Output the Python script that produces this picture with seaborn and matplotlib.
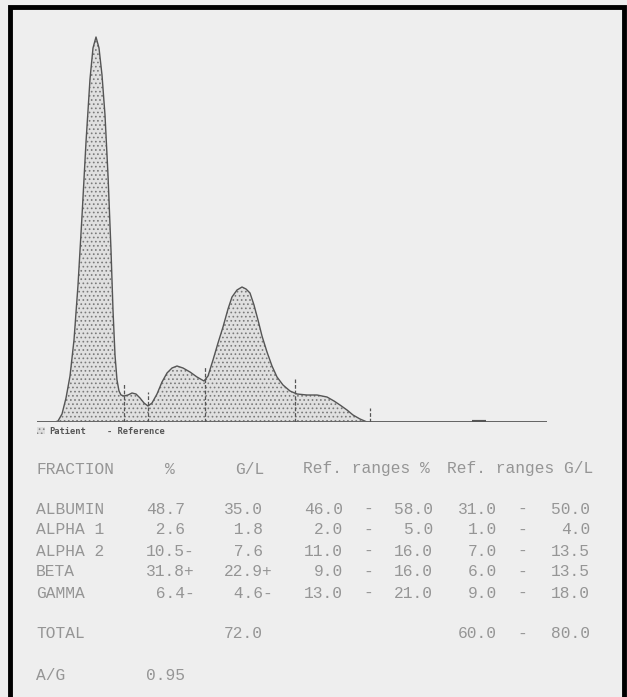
import numpy as np
import matplotlib
matplotlib.use("Agg")
import matplotlib.pyplot as plt
import matplotlib.patches as mpatches
import seaborn as sns

# --- densitometry scan (position along strip, absorbance) ---
scan_pos = [0, 18, 21, 25, 29, 33, 37, 41, 45, 49, 53, 56, 59, 62, 65, 68, 71, 74, 76, 78,
            80, 82, 84, 87, 91, 95, 99, 103, 107, 111, 115, 120, 125, 130, 135, 140, 146,
            153, 160, 167, 171, 176, 181, 186, 191, 195, 200, 205, 209, 213, 217, 221, 225,
            230, 235, 240, 246, 253, 260, 270, 280, 290, 297, 303, 310, 316, 323, 330, 510]
scan_abs = [0, 0, 1, 8, 24, 46, 82, 137, 206, 280, 343, 374, 385, 374, 347, 307, 247, 172, 112, 67,
            42, 31, 27, 26, 27, 29, 28, 24, 19, 16, 19, 28, 40, 49, 54, 56, 54,
            50, 45, 41, 46, 62, 79, 95, 113, 125, 132, 135, 133, 129, 117, 102, 86,
            70, 56, 45, 37, 31, 28, 27, 27, 25, 21, 17, 12, 7, 3, 0, 0]

# fraction boundary marks (position, height of tick)
split_pos = [87, 111, 168, 258, 333]
split_top = [39, 30, 56, 43, 14]
# small mark on the baseline
mark_from, mark_to = 435, 449

# --- results table ---
fractions = ["ALBUMIN", "ALPHA 1", "ALPHA 2", "BETA", "GAMMA"]
pct = ["48.7", "2.6", "10.5", "31.8", "6.4"]
pct_flag = ["", "", "-", "+", "-"]
gl = ["35.0", "1.8", "7.6", "22.9", "4.6"]
gl_flag = ["", "", "", "+", "-"]
ref_pct_lo = ["46.0", "2.0", "11.0", "9.0", "13.0"]
ref_pct_hi = ["58.0", "5.0", "16.0", "16.0", "21.0"]
ref_gl_lo = ["31.0", "1.0", "7.0", "6.0", "9.0"]
ref_gl_hi = ["50.0", "4.0", "13.5", "13.5", "18.0"]
total_gl = "72.0"
total_ref = ("60.0", "80.0")
ag_ratio = "0.95"

W, H = 627, 697
sns.set_style("white")
plt.rcParams["hatch.linewidth"] = 0.7

fig = plt.figure(figsize=(W / 100, H / 100), dpi=100, facecolor="#eeeeee")

def fx(px):
    return px / W

def fy(py):
    return 1 - py / H

# outer frame
fig.patches.append(mpatches.Rectangle((fx(10), fy(702)), fx(614), 702 / H - 7 / H,
                                      transform=fig.transFigure, fill=False,
                                      edgecolor="black", lw=3.5))

# graph axes: baseline at y=422 px, spans x 37..547 px
ax = fig.add_axes([fx(37), fy(422), fx(510), (422 - 30) / H])
ax.set_xlim(0, 510)
ax.set_ylim(0, 392)
ax.set_facecolor("none")
ax.axis("off")

ax.fill_between(scan_pos, scan_abs, 0, facecolor="#e0e0e0", hatch="....",
                edgecolor="#7a7a7a", lw=0)
sns.lineplot(x=scan_pos, y=scan_abs, ax=ax, color="#555555", lw=1.0, sort=False)
ax.axhline(0, color="#666666", lw=1.4, xmin=0, xmax=1)
ax.vlines(split_pos, 0, split_top, colors="#555555", lw=0.9, linestyles=(0, (3, 1.5)))
ax.plot([mark_from, mark_to], [0, 0], color="#555555", lw=3, solid_capstyle="butt")

# legend line under the graph
fig.patches.append(mpatches.Rectangle((fx(37), fy(434)), fx(8), 7 / H, transform=fig.transFigure,
                                      facecolor="#dddddd", hatch="....", edgecolor="#888888", lw=0))
small = dict(family="DejaVu Sans Mono", fontsize=6.3, color="#555555", va="center", fontweight="bold")
fig.text(fx(49), fy(431), "Patient", **small)
fig.text(fx(107), fy(431), "- Reference", **small)

# table text (monospace, printer-style columns)
txt = dict(family="Liberation Mono", fontsize=11.7, color="#959595", va="center")

fig.text(fx(36), fy(469), "FRACTION", **txt)
fig.text(fx(165), fy(469), "%", **txt)
fig.text(fx(235), fy(469), "G/L", **txt)
fig.text(fx(303), fy(469), "Ref. ranges %", **txt)
fig.text(fx(447), fy(469), "Ref. ranges G/L", **txt)

row_y = [509, 530, 551, 572, 593]
for i, y in enumerate(row_y):
    fig.text(fx(36), fy(y), fractions[i], **txt)
    fig.text(fx(146), fy(y), f"{pct[i]:>4}{pct_flag[i]}", **txt)
    fig.text(fx(224), fy(y), f"{gl[i]:>4}{gl_flag[i]}", **txt)
    fig.text(fx(343), fy(y), ref_pct_lo[i], ha="right", **txt)
    fig.text(fx(368), fy(y), "-", ha="center", **txt)
    fig.text(fx(433), fy(y), ref_pct_hi[i], ha="right", **txt)
    fig.text(fx(497), fy(y), ref_gl_lo[i], ha="right", **txt)
    fig.text(fx(522), fy(y), "-", ha="center", **txt)
    fig.text(fx(590), fy(y), ref_gl_hi[i], ha="right", **txt)

fig.text(fx(36), fy(634), "TOTAL", **txt)
fig.text(fx(263), fy(634), total_gl, ha="right", **txt)
fig.text(fx(497), fy(634), total_ref[0], ha="right", **txt)
fig.text(fx(522), fy(634), "-", ha="center", **txt)
fig.text(fx(590), fy(634), total_ref[1], ha="right", **txt)

fig.text(fx(36), fy(676), "A/G", **txt)
fig.text(fx(185), fy(676), ag_ratio, ha="right", **txt)

fig.savefig("out.png", dpi=100, facecolor=fig.get_facecolor())
